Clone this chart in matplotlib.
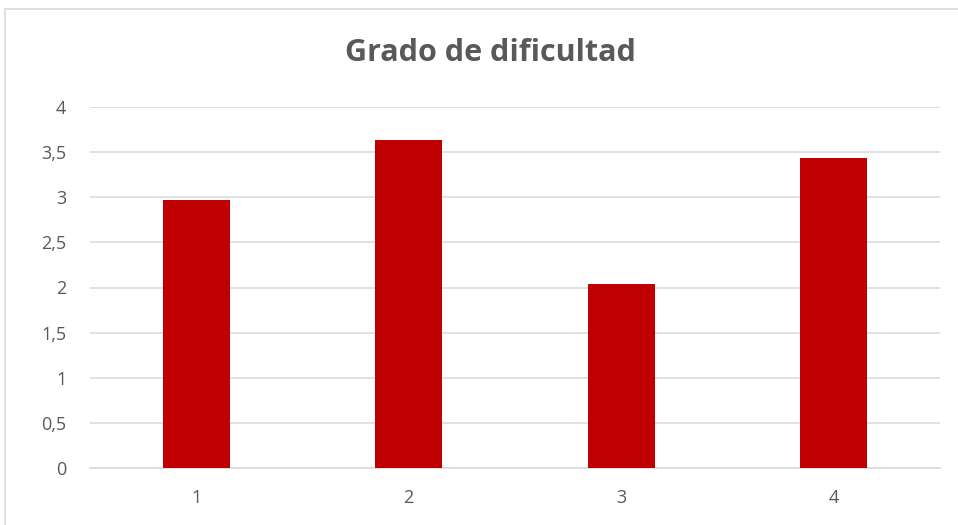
import numpy as np
import matplotlib.pyplot as plt
from matplotlib.patches import Rectangle
from matplotlib.ticker import FuncFormatter

categories = ['1', '2', '3', '4']
values = [2.97, 3.63, 2.04, 3.43]
yticks = [0, 0.5, 1, 1.5, 2, 2.5, 3, 3.5, 4]

W, H = 958, 525
fig = plt.figure(figsize=(W / 100, H / 100), dpi=100)
plt.rcParams['font.family'] = ['Open Sans', 'DejaVu Sans']

# light frame around the chart (runs off the right and bottom edges)
fig.patches.append(Rectangle((5 / W, -0.2), 1.2, 1.2 - 9 / H, transform=fig.transFigure,
                             fill=False, edgecolor='#d9d9d9', linewidth=1.2))

ax = fig.add_axes([90 / W, (H - 468) / H, 850 / W, 361 / H])
x = np.arange(1, len(categories) + 1)
ax.bar(x, values, width=0.315, color='#c00000', zorder=3)

ax.set_xlim(0.5, 4.5)
ax.set_ylim(0, 4)
ax.set_yticks(yticks)
ax.yaxis.set_major_formatter(FuncFormatter(lambda v, p: ('%g' % v).replace('.', ',')))
ax.set_xticks(x)
ax.set_xticklabels(categories)
ax.grid(axis='y', color='#d9d9d9', linewidth=1.1, zorder=0)
ax.tick_params(length=0, labelsize=13, colors='#595959')
ax.tick_params(axis='y', pad=17)
ax.tick_params(axis='x', pad=15)
for s in ['top', 'right', 'left']:
    ax.spines[s].set_visible(False)
ax.spines['bottom'].set_color('#d9d9d9')
ax.spines['bottom'].set_linewidth(1.1)

fig.text(490 / W, 1 - 53 / H, 'Grado de dificultad', ha='center', va='center',
         fontsize=22, fontweight='bold', color='#595959')

fig.savefig('out.png', dpi=100)
